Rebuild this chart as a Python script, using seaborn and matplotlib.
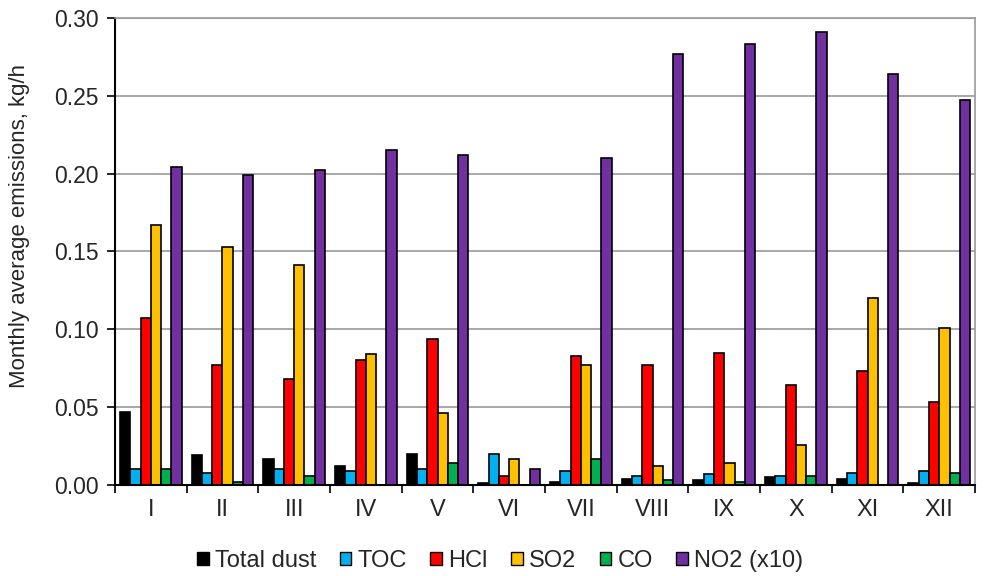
import numpy as np
import pandas as pd
import seaborn as sns
import matplotlib.pyplot as plt
from matplotlib.patches import Patch

months = ["I", "II", "III", "IV", "V", "VI", "VII", "VIII", "IX", "X", "XI", "XII"]
pollutants = ["Total dust", "TOC", "HCl", "SO2", "CO", "NO2 (x10)"]
colors = ["#000000", "#00B0F0", "#FF0000", "#FFC000", "#00B050", "#7030A0"]

total_dust = [0.047, 0.019, 0.017, 0.012, 0.020, 0.001, 0.002, 0.004, 0.003, 0.005, 0.004, 0.001]
toc        = [0.010, 0.008, 0.010, 0.009, 0.010, 0.020, 0.009, 0.006, 0.007, 0.006, 0.008, 0.009]
hcl        = [0.107, 0.077, 0.068, 0.080, 0.094, 0.006, 0.083, 0.077, 0.085, 0.064, 0.073, 0.053]
so2        = [0.167, 0.153, 0.141, 0.084, 0.046, 0.017, 0.077, 0.012, 0.014, 0.026, 0.120, 0.101]
co         = [0.010, 0.002, 0.006, 0.000, 0.014, 0.000, 0.017, 0.003, 0.002, 0.006, 0.000, 0.008]
no2_x10    = [0.204, 0.199, 0.202, 0.215, 0.212, 0.010, 0.210, 0.277, 0.283, 0.291, 0.264, 0.247]

series = [total_dust, toc, hcl, so2, co, no2_x10]
df = pd.DataFrame({
    "month": np.tile(months, len(pollutants)),
    "pollutant": np.repeat(pollutants, len(months)),
    "value": np.concatenate(series),
})

sns.set_style("white")
plt.rcParams["font.family"] = ["Liberation Sans", "DejaVu Sans"]

fig = plt.figure(figsize=(9.91, 5.76), dpi=100)
ax = fig.add_axes([0.116, 0.158, 0.868, 0.811])

sns.barplot(data=df, x="month", y="value", hue="pollutant", order=months,
            hue_order=pollutants, palette=colors, width=0.86, gap=0,
            edgecolor="black", linewidth=1.2, saturation=1, errorbar=None,
            legend=False, ax=ax)

ax.set_ylim(0, 0.30)
ax.set_xlim(-0.5, len(months) - 0.5)
ax.set_yticks(np.arange(0, 0.301, 0.05))
ax.set_yticklabels([f"{v:.2f}" for v in np.arange(0, 0.301, 0.05)])
ax.yaxis.grid(True, color="#999999", linewidth=1.2)
ax.set_axisbelow(True)

ax.set_xlabel("")
ax.set_ylabel("Monthly average emissions, kg/h", fontsize=16)
ax.yaxis.set_label_coords(-0.099, 0.555)
ax.tick_params(axis="y", labelsize=16.5, length=6, width=1.2, direction="out",
               left=True, color="black", pad=6)
ax.tick_params(axis="x", which="major", labelsize=17, length=0, pad=10)
ax.set_xticks(np.arange(-0.5, len(months), 1.0), minor=True)
ax.tick_params(axis="x", which="minor", length=6, width=1.2, bottom=True,
               color="black")

for side in ["left", "bottom"]:
    ax.spines[side].set_color("black")
    ax.spines[side].set_linewidth(1.5)
for side in ["top", "right"]:
    ax.spines[side].set_color("#999999")
    ax.spines[side].set_linewidth(1.2)

handles = [Patch(facecolor=c, edgecolor="black", linewidth=1.0, label=p)
           for c, p in zip(colors, pollutants)]
fig.legend(handles=handles, loc="center", bbox_to_anchor=(500 / 991, 1 - 561 / 576),
           ncol=6, frameon=False, fontsize=17, handlelength=0.5,
           handleheight=0.5, handletextpad=0.25, columnspacing=1.0,
           borderpad=0, borderaxespad=0)

fig.savefig("out.png", dpi=100)
